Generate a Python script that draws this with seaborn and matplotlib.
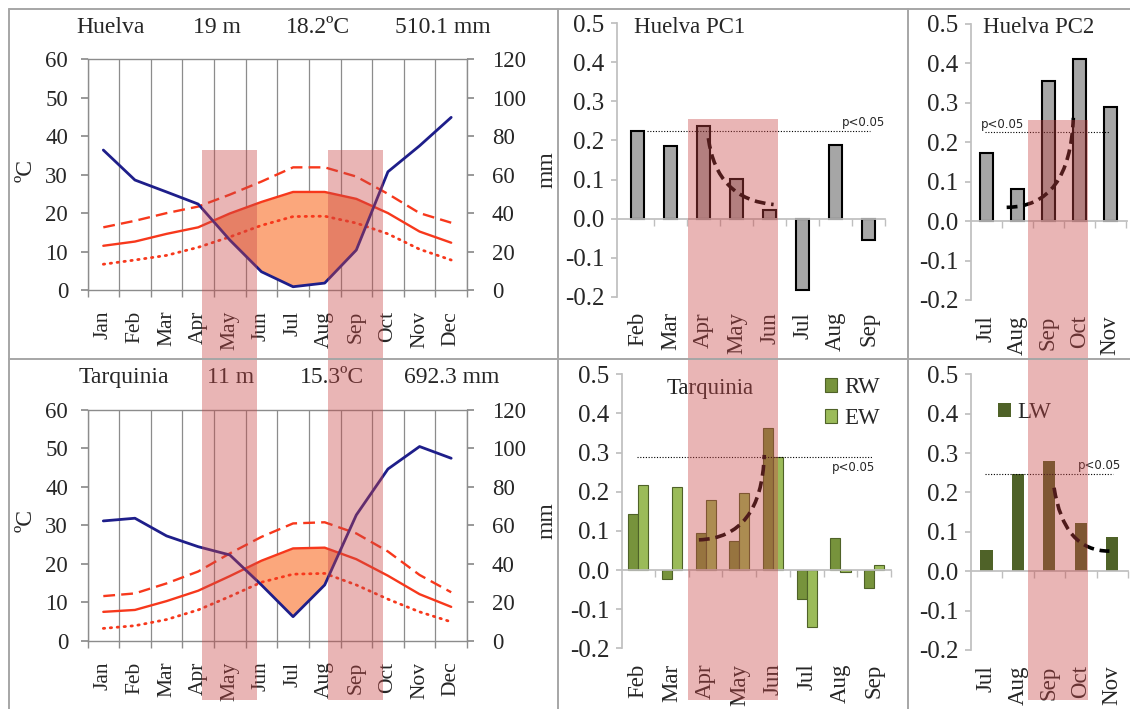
import numpy as np
import pandas as pd
import matplotlib
matplotlib.use("Agg")
import matplotlib.pyplot as plt
import seaborn as sns
from matplotlib.path import Path
from matplotlib.patches import PathPatch, Rectangle
from matplotlib.lines import Line2D
from matplotlib.ticker import FormatStrFormatter

sns.set_theme(style="white")
plt.rcParams["font.family"] = ["Liberation Serif", "DejaVu Serif"]
plt.rcParams["axes.unicode_minus"] = False

# ---------------- data ----------------
months = ["Jan", "Feb", "Mar", "Apr", "May", "Jun", "Jul", "Aug", "Sep", "Oct", "Nov", "Dec"]

huelva_info = ["Huelva", "19 m", "18.2ºC", "510.1 mm"]
huelva_prec = [72.8, 57.2, 51.0, 44.7, 26.0, 9.5, 1.7, 3.6, 20.8, 61.5, 75.0, 89.8]
huelva_tmean = [11.5, 12.6, 14.6, 16.3, 19.9, 22.9, 25.5, 25.5, 23.7, 20.0, 15.2, 12.3]
huelva_tmax = [16.3, 18.0, 20.0, 21.7, 24.8, 28.2, 31.9, 31.9, 29.5, 25.0, 20.0, 17.5]
huelva_tmin = [6.7, 7.8, 9.0, 11.1, 13.8, 16.8, 19.1, 19.2, 17.4, 14.6, 10.6, 7.8]

tarq_info = ["Tarquinia", "11 m", "15.3ºC", "692.3 mm"]
tarq_prec = [62.3, 63.7, 54.5, 48.9, 44.6, 29.0, 12.5, 29.0, 65.4, 89.3, 101.0, 94.9]
tarq_tmean = [7.5, 8.0, 10.3, 13.0, 16.8, 20.8, 24.0, 24.2, 21.2, 16.9, 12.1, 8.8]
tarq_tmax = [11.6, 12.3, 14.9, 18.0, 22.7, 27.0, 30.5, 30.8, 27.9, 23.2, 17.1, 12.6]
tarq_tmin = [3.2, 3.9, 5.5, 8.0, 11.5, 15.2, 17.3, 17.5, 14.5, 10.8, 7.5, 4.9]

pc1_months = ["Feb", "Mar", "Apr", "May", "Jun", "Jul", "Aug", "Sep"]
pc1_vals = [0.225, 0.187, 0.236, 0.101, 0.021, -0.184, 0.188, -0.055]
pc1_thresh = 0.225

pc2_months = ["Jul", "Aug", "Sep", "Oct", "Nov"]
pc2_vals = [0.172, 0.081, 0.356, 0.410, 0.290]
pc2_thresh = 0.225

tq_months = ["Feb", "Mar", "Apr", "May", "Jun", "Jul", "Aug", "Sep"]
tq_rw = [0.143, -0.023, 0.094, 0.074, 0.362, -0.075, 0.083, -0.045]
tq_ew = [0.217, 0.211, 0.179, 0.196, 0.288, -0.145, -0.005, 0.014]
tq_thresh = 0.288

lw_months = ["Jul", "Aug", "Sep", "Oct", "Nov"]
lw_vals = [0.053, 0.247, 0.281, 0.122, 0.086]
lw_thresh = 0.247

# schematic trend curves (quadratic Bezier control points, data coords)
pc1_curve = [(2.14, 0.206), (2.39, 0.049), (4.12, 0.036)]
pc2_curve = [(0.66, 0.035), (2.70, 0.036), (2.81, 0.262)]
tq_curve = [(1.80, 0.077), (3.66, 0.083), (3.74, 0.294)]
lw_curve = [(2.15, 0.212), (2.46, 0.051), (3.91, 0.051)]

# highlighted windows
clim_spans = [(3.12, 4.85), (7.12, 8.85)]
clim_span_top = 36.4
pc1_span = (1.53, 4.24)
pc2_span = (1.35, 3.29)
bar_span_top = 0.256

# ---------------- colours ----------------
RED = "#F7381C"
BLUE = "#1E1E8A"
ORANGE = "#FBA77C"
GREY_BAR = "#A6A6A6"
RW_C = "#77933C"
EW_C = "#9BBB59"
LW_C = "#4F6228"
PINK = "#C84646"
AX_GREY = "#8C8C8C"
LIGHT_GREY = "#BFBFBF"

W, H = 1130, 709
fig = plt.figure(figsize=(W / 100, H / 100), dpi=100)


def rect_px(l, t, r, b):
    return [l / W, 1 - b / H, (r - l) / W, (b - t) / H]


ax_hc = fig.add_axes(rect_px(87.5, 59.3, 467, 290))
ax_tc = fig.add_axes(rect_px(87.5, 410, 467, 640.7))
ax_p1 = fig.add_axes(rect_px(616.7, 23.3, 885, 296.7))
ax_tq = fig.add_axes(rect_px(621.7, 374.3, 891, 648.3))
ax_p2 = fig.add_axes(rect_px(971, 24, 1126.7, 300))
ax_lw = fig.add_axes(rect_px(971, 374.3, 1128, 650))


def climate(ax, info, prec, tmean, tmax, tmin, name_x):
    idx = np.arange(12)
    prec_c = np.array(prec) / 2.0
    tm = np.array(tmean)
    ax.fill_between(idx, prec_c, tm, where=tm >= prec_c, interpolate=True,
                    color=ORANGE, lw=0, zorder=1)
    sns.lineplot(x=idx, y=tmax, ax=ax, color=RED, lw=1.7, linestyle=(0, (5, 2.6)), zorder=3)
    sns.lineplot(x=idx, y=tmean, ax=ax, color=RED, lw=1.7, zorder=3)
    sns.lineplot(x=idx, y=tmin, ax=ax, color=RED, lw=2.0, linestyle=(0, (0.5, 2.0)),
                 dash_capstyle="round", zorder=3)
    ax.set_xlim(-0.5, 11.5)
    ax.set_ylim(0, 60)
    ax.set_yticks(range(0, 61, 10))
    ax.set_xticks(idx)
    ax.set_xticklabels(months)
    ax.set_xticks(np.arange(-0.5, 12, 1), minor=True)
    ax.grid(which="minor", axis="x", color=AX_GREY, lw=0.9)
    ax.grid(which="major", visible=False)
    ax.tick_params(axis="x", which="major", length=0, pad=15, labelsize=15.5, labelrotation=90)
    ax.tick_params(axis="x", which="minor", bottom=True, length=5, direction="out", color=AX_GREY)
    ax.tick_params(axis="y", which="major", left=True, length=5, direction="out",
                   color=AX_GREY, labelsize=16.5, pad=9)
    for s in ax.spines.values():
        s.set_color(AX_GREY)
        s.set_linewidth(1.0)
    ax.set_xlabel("")
    ax.set_ylabel("ºC", fontsize=17)
    ax.yaxis.set_label_coords(-0.135, 0.52)

    ax2 = ax.twinx()
    sns.lineplot(x=idx, y=prec, ax=ax2, color=BLUE, lw=2.0, zorder=4)
    ax2.set_ylim(0, 120)
    ax2.set_yticks(range(0, 121, 20))
    ax2.tick_params(axis="y", right=True, length=5, direction="out", color=AX_GREY,
                    labelsize=16.5, pad=13)
    for s in ax2.spines.values():
        s.set_visible(False)
    ax2.set_ylabel("mm", fontsize=17)
    ax2.yaxis.set_label_coords(1.184, 0.52)
    ax2.set_xlim(-0.5, 11.5)

    for txt, x in zip(info, name_x):
        ax.text(x, 1.14, txt, transform=ax.transAxes, ha="left", va="center", fontsize=17)


climate(ax_hc, huelva_info, huelva_prec, huelva_tmean, huelva_tmax, huelva_tmin,
        [-0.03, 0.278, 0.523, 0.81])
climate(ax_tc, tarq_info, tarq_prec, tarq_tmean, tarq_tmax, tarq_tmin,
        [-0.023, 0.315, 0.56, 0.833])


def style_bar(ax, labels, xlim):
    n = len(labels)
    ax.set_xlim(*xlim)
    ax.set_ylim(-0.2, 0.5)
    ax.set_yticks(np.round(np.arange(-0.2, 0.51, 0.1), 1))
    ax.yaxis.set_major_formatter(FormatStrFormatter("%.1f"))
    ax.set_xticks(range(n))
    ax.set_xticklabels(labels)
    ax.set_xticks(np.arange(0.5, n, 1), minor=True)
    ax.spines["right"].set_visible(False)
    ax.spines["bottom"].set_visible(False)
    ax.spines["left"].set_color(LIGHT_GREY)
    ax.spines["top"].set_position(("data", 0))
    ax.spines["top"].set_color(LIGHT_GREY)
    ax.tick_params(axis="x", which="major", bottom=True, top=False, length=0, pad=11,
                   labelsize=16.5, labelrotation=90)
    ax.tick_params(axis="x", which="minor", bottom=False, top=True, direction="in",
                   length=5, color=LIGHT_GREY, labeltop=False, labelbottom=False)
    ax.tick_params(axis="y", left=True, direction="out", length=4, color=LIGHT_GREY,
                   labelsize=18, pad=5)
    ax.set_xlabel("")
    ax.set_ylabel("")
    ax.grid(False)


def add_curve(ax, pts):
    path = Path(pts, [Path.MOVETO, Path.CURVE3, Path.CURVE3])
    ax.add_patch(PathPatch(path, fill=False, ec="black", lw=2.6,
                           linestyle=(0, (3, 1.6)), zorder=5))


def add_thresh(ax, y, x0, x1, tx, ty, va):
    ax.hlines(y, x0, x1, colors="black", lw=0.8, linestyles=(0, (1, 1.5)), zorder=4)
    ax.text(tx, ty, "p<0.05", ha="center", va=va, fontsize=8.5,
            family=["DejaVu Sans"], zorder=6)


# Huelva PC1
df_p1 = pd.DataFrame({"month": pc1_months, "value": pc1_vals})
sns.barplot(data=df_p1, x="month", y="value", ax=ax_p1, color=GREY_BAR, saturation=1,
            edgecolor="black", linewidth=1.5, width=0.4, errorbar=None)
style_bar(ax_p1, pc1_months, (-0.64, 7.49))
add_thresh(ax_p1, pc1_thresh, 0.27, 7.04, 6.84, pc1_thresh + 0.004, "bottom")
add_curve(ax_p1, pc1_curve)
ax_p1.text(0.064, 0.983, "Huelva PC1", transform=ax_p1.transAxes, ha="left", va="center",
           fontsize=16.5)

# Huelva PC2
df_p2 = pd.DataFrame({"month": pc2_months, "value": pc2_vals})
sns.barplot(data=df_p2, x="month", y="value", ax=ax_p2, color=GREY_BAR, saturation=1,
            edgecolor="black", linewidth=1.5, width=0.41, errorbar=None)
style_bar(ax_p2, pc2_months, (-0.49, 4.53))
add_thresh(ax_p2, pc2_thresh, -0.04, 3.99, 0.52, pc2_thresh + 0.004, "bottom")
add_curve(ax_p2, pc2_curve)
ax_p2.text(0.075, 0.986, "Huelva PC2", transform=ax_p2.transAxes, ha="left", va="center",
           fontsize=16.5)

# Tarquinia RW / EW
df_tq = pd.DataFrame({
    "month": tq_months * 2,
    "value": tq_rw + tq_ew,
    "series": ["RW"] * len(tq_months) + ["EW"] * len(tq_months),
})
sns.barplot(data=df_tq, x="month", y="value", hue="series", ax=ax_tq,
            palette={"RW": RW_C, "EW": EW_C}, saturation=1, edgecolor=LW_C,
            linewidth=0.8, width=0.6, errorbar=None)
style_bar(ax_tq, tq_months, (-0.49, 7.5))
add_thresh(ax_tq, tq_thresh, -0.05, 6.98, 6.39, tq_thresh - 0.01, "top")
add_curve(ax_tq, tq_curve)
ax_tq.text(0.167, 0.95, "Tarquinia", transform=ax_tq.transAxes, ha="left", va="center",
           fontsize=16.5)
sns.move_legend(ax_tq, "upper right", bbox_to_anchor=(0.959, 0.99), frameon=False,
                title=None, fontsize=16.5, handlelength=0.55, handleheight=0.55,
                handletextpad=0.3, labelspacing=0.45, borderpad=0, borderaxespad=0)

# Tarquinia LW
df_lw = pd.DataFrame({"month": lw_months, "value": lw_vals, "series": ["LW"] * len(lw_months)})
sns.barplot(data=df_lw, x="month", y="value", hue="series", ax=ax_lw,
            palette={"LW": LW_C}, saturation=1, linewidth=0, width=0.39, errorbar=None)
style_bar(ax_lw, lw_months, (-0.49, 4.36))
add_thresh(ax_lw, lw_thresh, -0.03, 4.01, 3.6, lw_thresh + 0.004, "bottom")
add_curve(ax_lw, lw_curve)
sns.move_legend(ax_lw, "upper left", bbox_to_anchor=(0.172, 0.9), frameon=False,
                title=None, fontsize=16.5, handlelength=0.55, handleheight=0.55,
                handletextpad=0.3, borderpad=0, borderaxespad=0)

# ---------------- highlighted windows (overlay across both rows) ----------------
inv = fig.transFigure.inverted()


def to_fig(ax, x, y):
    return inv.transform(ax.transData.transform((x, y)))


bottom_f = 1 - 700 / H
spans = [(ax_hc, s, clim_span_top) for s in clim_spans] + \
        [(ax_p1, pc1_span, bar_span_top), (ax_p2, pc2_span, bar_span_top)]
for ax, (a, b), top in spans:
    x0, y0 = to_fig(ax, a, top)
    x1, _ = to_fig(ax, b, top)
    fig.add_artist(Rectangle((x0, bottom_f), x1 - x0, y0 - bottom_f,
                             transform=fig.transFigure, facecolor=PINK, alpha=0.4,
                             edgecolor="none", zorder=10))

# ---------------- panel frame lines ----------------
frame_c = "#A6A6A6"
for xs, ys in [([9, 9], [9, H]), ([9, W], [9, 9]), ([9, W], [359, 359]),
               ([558, 558], [9, H]), ([908, 908], [9, H])]:
    fig.add_artist(Line2D([x / W for x in xs], [1 - y / H for y in ys],
                          transform=fig.transFigure, color=frame_c, lw=1.4, zorder=11))

fig.savefig("out.png", dpi=100)
